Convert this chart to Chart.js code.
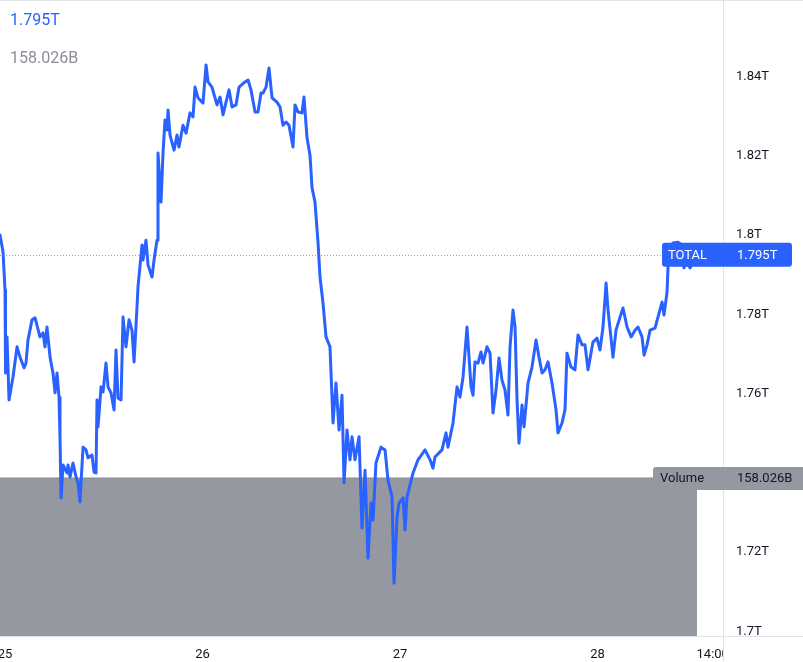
<!DOCTYPE html>
<html>
<head>
<meta charset="utf-8">
<script src="https://cdn.jsdelivr.net/npm/chart.js@4/dist/chart.umd.min.js"></script>
<style>
html,body{margin:0;padding:0;background:#fff;overflow:hidden;}
canvas{display:block;}
</style>
</head>
<body>
<canvas id="c" width="803" height="662"></canvas>
<script>
// hours since 25th 00:00
const hours = [-0.61,-0.24,0.00,0.06,0.24,0.49,0.97,1.46,1.82,2.31,2.55,2.79,3.28,3.65,4.25,4.62,4.86,5.10,5.47,5.83,6.08,6.32,6.56,6.68,6.81,7.05,7.53,7.66,7.90,8.26,8.63,8.87,9.11,9.48,9.84,10.09,10.57,10.82,11.06,11.18,11.30,11.67,11.91,12.27,12.52,12.88,13.25,13.49,13.73,14.10,14.34,14.70,15.07,15.43,15.68,16.04,16.16,16.65,16.77,17.13,17.38,17.86,18.11,18.47,18.59,18.96,19.20,19.44,19.69,19.81,20.05,20.54,20.90,21.14,21.63,22.00,22.48,22.85,23.09,23.45,23.94,24.06,24.43,24.67,25.15,25.52,25.76,26.13,26.49,26.98,27.22,27.59,28.07,28.44,29.16,29.53,29.89,30.38,30.74,31.11,31.35,31.72,32.08,32.45,33.05,33.42,33.78,34.15,34.51,35.00,35.24,35.61,36.09,36.33,36.70,37.06,37.31,37.67,38.04,38.28,38.64,39.01,39.49,39.86,40.22,40.59,40.95,41.20,41.56,41.92,42.17,42.53,43.02,43.38,43.75,44.11,44.48,44.72,45.08,45.69,46.18,46.54,47.03,47.27,47.64,47.88,48.37,48.61,48.85,49.58,50.19,51.04,51.65,52.01,52.25,53.10,53.59,53.83,54.44,54.93,55.29,55.66,56.14,56.63,56.87,57.11,57.48,57.84,58.09,58.57,58.94,59.30,59.67,60.03,60.39,60.76,61.12,61.37,61.73,61.98,62.22,62.46,62.83,63.07,63.56,64.04,64.53,64.89,65.26,65.62,65.99,66.47,66.96,67.20,67.69,68.05,68.29,68.78,69.26,69.63,70.12,70.48,70.85,71.45,71.94,72.30,72.67,73.04,73.28,73.88,74.25,74.74,75.10,75.59,76.08,76.56,76.92,77.41,77.66,78.02,78.38,78.99,79.35,79.84,80.08,80.45,80.57,80.81,81.17,81.78,82.27,82.51,82.88,83.24,83.61,83.85];
// TOTAL crypto market cap, trillions USD
const totalT = [1.8000,1.7957,1.7861,1.7652,1.7743,1.7584,1.7642,1.7718,1.7692,1.7665,1.7677,1.7735,1.7786,1.7791,1.7743,1.7753,1.7718,1.7768,1.7692,1.7652,1.7602,1.7652,1.7591,1.7491,1.7337,1.7420,1.7400,1.7420,1.7390,1.7425,1.7390,1.7375,1.7327,1.7465,1.7458,1.7438,1.7445,1.7402,1.7400,1.7584,1.7516,1.7617,1.7604,1.7677,1.7617,1.7602,1.7559,1.7710,1.7589,1.7584,1.7793,1.7718,1.7786,1.7760,1.7680,1.7818,1.7869,1.7975,1.7937,1.7987,1.7924,1.7894,1.7937,1.7987,1.8207,1.8083,1.8207,1.8290,1.8265,1.8315,1.8252,1.8214,1.8252,1.8222,1.8277,1.8257,1.8308,1.8298,1.8373,1.8346,1.8335,1.8333,1.8429,1.8386,1.8373,1.8346,1.8328,1.8348,1.8303,1.8346,1.8366,1.8323,1.8328,1.8373,1.8386,1.8391,1.8366,1.8310,1.8310,1.8358,1.8358,1.8373,1.8421,1.8346,1.8335,1.8323,1.8277,1.8285,1.8277,1.8222,1.8328,1.8310,1.8308,1.8348,1.8245,1.8202,1.8119,1.8083,1.7980,1.7894,1.7829,1.7743,1.7718,1.7526,1.7627,1.7508,1.7596,1.7375,1.7508,1.7433,1.7491,1.7433,1.7491,1.7261,1.7407,1.7185,1.7324,1.7281,1.7425,1.7465,1.7458,1.7382,1.7339,1.7122,1.7289,1.7324,1.7337,1.7256,1.7339,1.7400,1.7433,1.7458,1.7433,1.7412,1.7440,1.7458,1.7501,1.7465,1.7526,1.7617,1.7591,1.7642,1.7768,1.7617,1.7596,1.7680,1.7677,1.7705,1.7677,1.7718,1.7702,1.7551,1.7609,1.7690,1.7634,1.7609,1.7546,1.7718,1.7811,1.7768,1.7584,1.7475,1.7571,1.7516,1.7627,1.7667,1.7735,1.7692,1.7652,1.7660,1.7680,1.7627,1.7559,1.7501,1.7526,1.7559,1.7702,1.7667,1.7660,1.7748,1.7723,1.7723,1.7660,1.7730,1.7740,1.7710,1.7768,1.7879,1.7811,1.7692,1.7760,1.7793,1.7816,1.7768,1.7743,1.7760,1.7768,1.7743,1.7697,1.7723,1.7760,1.7765,1.7793,1.7831,1.7798,1.7856,1.7919,1.7955,1.7980,1.7982,1.7975,1.7917,1.7932,1.7917,1.7930,1.7950];
const lastTotal = [1.795];
const lastVolumeB = [158.026];
const seriesName = ["TOTAL"];
const volumeName = ["Volume"];
const xTickValues = [0, 24, 48, 72, 86];
const xTickLabels = ["25", "26", "27", "28", "14:00"];
const yTickValues = [1.70, 1.72, 1.74, 1.76, 1.78, 1.80, 1.82, 1.84];
const yTickLabels = ["1.7T", "1.72T", "1.74T", "1.76T", "1.78T", "1.8T", "1.82T", "1.84T"];

const FONT = "Roboto, 'Liberation Sans', sans-serif";
const BLUE = "#2962ff";
const GRAYVOL = "#9598a1";
const TEXT = "#131722";
const LINE = "#e0e3eb";

const priceData = hours.map((h, i) => ({x: h, y: totalT[i]}));
const volData = [{x: hours[0], y: lastVolumeB[0]}, {x: hours[hours.length - 1] + 0.25, y: lastVolumeB[0]}];

function rrect(ctx, x, y, w, h, r) {
  ctx.beginPath();
  ctx.moveTo(x + r, y);
  ctx.lineTo(x + w - r, y);
  ctx.quadraticCurveTo(x + w, y, x + w, y + r);
  ctx.lineTo(x + w, y + h - r);
  ctx.quadraticCurveTo(x + w, y + h, x + w - r, y + h);
  ctx.lineTo(x + r, y + h);
  ctx.quadraticCurveTo(x, y + h, x, y + h - r);
  ctx.lineTo(x, y + r);
  ctx.quadraticCurveTo(x, y, x + r, y);
  ctx.closePath();
}

const overlay = {
  id: 'overlay',
  beforeDatasetsDraw(chart) {
    const ctx = chart.ctx, ca = chart.chartArea;
    const y = Math.round(chart.scales.y.getPixelForValue(lastTotal[0])) + 0.5;
    ctx.save();
    ctx.strokeStyle = "#8fa3cf";
    ctx.lineWidth = 1;
    ctx.setLineDash([1, 2]);
    ctx.beginPath();
    ctx.moveTo(ca.left, y);
    ctx.lineTo(ca.right, y);
    ctx.stroke();
    ctx.restore();
  },
  afterDraw(chart) {
    const ctx = chart.ctx, ca = chart.chartArea;
    const W = chart.width, H = chart.height;
    ctx.save();
    ctx.fillStyle = "#fff";
    ctx.fillRect(ca.right + 1, ca.bottom + 1, W - ca.right, H - ca.bottom);
    ctx.strokeStyle = LINE;
    ctx.lineWidth = 1;
    ctx.beginPath();
    ctx.moveTo(ca.right + 0.5, 0);
    ctx.lineTo(ca.right + 0.5, H);
    ctx.moveTo(0, ca.bottom + 0.5);
    ctx.lineTo(W, ca.bottom + 0.5);
    ctx.moveTo(0, 0.5);
    ctx.lineTo(W, 0.5);
    ctx.stroke();

    ctx.font = "13px " + FONT;
    ctx.textBaseline = "middle";
    ctx.textAlign = "left";
    const py = chart.scales.y.getPixelForValue(lastTotal[0]);
    ctx.fillStyle = BLUE;
    rrect(ctx, 662, py - 12, 130, 24, 3);
    ctx.fill();
    ctx.fillStyle = "#fff";
    ctx.fillText(seriesName[0], 668, py + 1);
    ctx.fillText(lastTotal[0].toFixed(3) + "T", 737, py + 1);

    const vy = chart.scales.yVol.getPixelForValue(lastVolumeB[0]);
    ctx.fillStyle = GRAYVOL;
    rrect(ctx, 653, vy - 11, 160, 23, 3);
    ctx.fill();
    ctx.fillStyle = TEXT;
    ctx.fillText(volumeName[0], 660, vy + 1);
    ctx.fillText(lastVolumeB[0].toFixed(3) + "B", 737, vy + 1);

    ctx.font = "16px " + FONT;
    ctx.textBaseline = "alphabetic";
    ctx.fillStyle = BLUE;
    ctx.fillText(lastTotal[0].toFixed(3) + "T", 10, 25);
    ctx.fillStyle = "#8a8e99";
    ctx.fillText(lastVolumeB[0].toFixed(3) + "B", 10, 63);
    ctx.restore();
  }
};

new Chart(document.getElementById('c'), {
  type: 'line',
  data: {
    datasets: [
      {
        label: seriesName[0],
        data: priceData,
        yAxisID: 'y',
        borderColor: BLUE,
        borderWidth: 3,
        pointRadius: 0,
        tension: 0,
        borderJoinStyle: 'round',
        borderCapStyle: 'round',
        fill: false,
        order: 0
      },
      {
        label: volumeName[0],
        data: volData,
        yAxisID: 'yVol',
        borderColor: "#878a94",
        borderWidth: 1,
        backgroundColor: GRAYVOL,
        pointRadius: 0,
        fill: 'origin',
        order: 1
      }
    ]
  },
  options: {
    responsive: false,
    animation: false,
    devicePixelRatio: 1,
    layout: {padding: 0},
    plugins: {legend: {display: false}, tooltip: {enabled: false}},
    scales: {
      x: {
        type: 'linear',
        min: -0.61,
        max: 87.25,
        grid: {display: false, drawTicks: false},
        border: {display: false},
        afterBuildTicks(s) { s.ticks = xTickValues.map(v => ({value: v})); },
        afterFit(s) { s.height = 26; s.paddingLeft = 0; s.paddingRight = 0; s.paddingTop = 0; s.paddingBottom = 0; },
        ticks: {
          autoSkip: false,
          maxRotation: 0,
          padding: 11,
          color: TEXT,
          font: {family: FONT, size: 13},
          callback: (v, i) => xTickLabels[i]
        }
      },
      y: {
        position: 'right',
        min: 1.69887,
        max: 1.85927,
        grid: {display: false, drawTicks: false},
        border: {display: false},
        afterBuildTicks(s) { s.ticks = yTickValues.map(v => ({value: v})); },
        afterFit(s) { s.width = 80; s.paddingTop = 0; s.paddingBottom = 0; s.paddingLeft = 0; s.paddingRight = 0; },
        ticks: {
          autoSkip: false,
          padding: 13,
          color: TEXT,
          font: {family: FONT, size: 13},
          callback: (v, i) => yTickLabels[i]
        }
      },
      yVol: {
        display: false,
        min: 0,
        max: 636.2
      }
    }
  },
  plugins: [overlay]
});
</script>
</body>
</html>
